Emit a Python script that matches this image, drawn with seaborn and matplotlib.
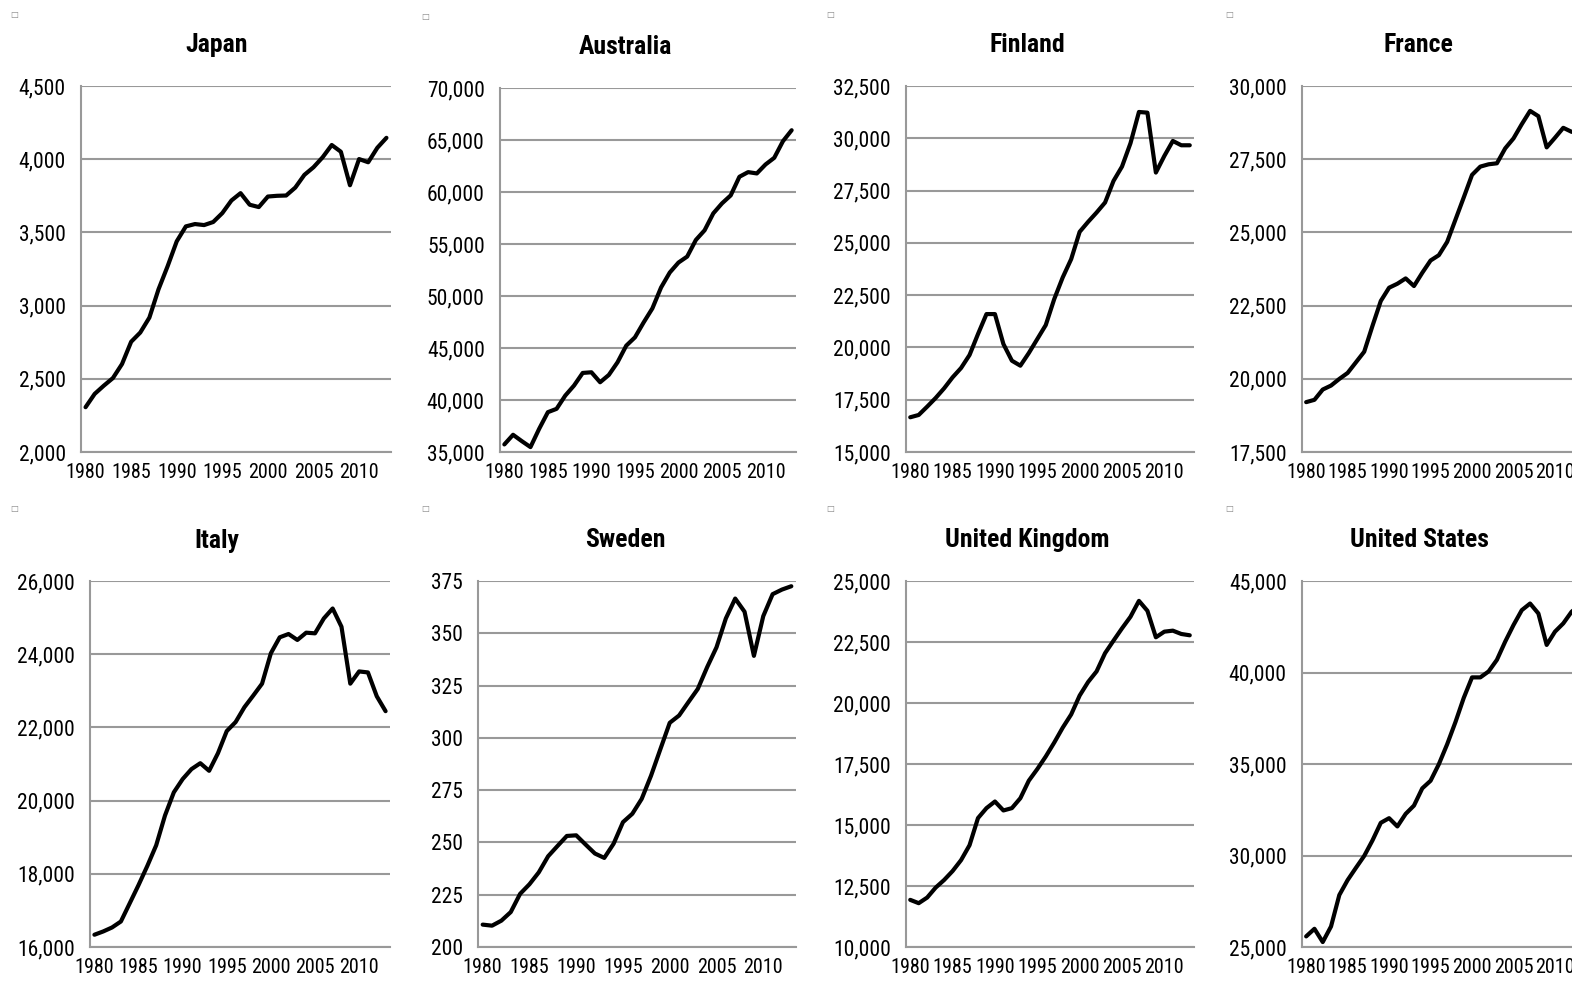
import matplotlib
matplotlib.use("Agg")
import matplotlib.pyplot as plt
import seaborn as sns
import pandas as pd
from matplotlib import font_manager as fm
from matplotlib.ticker import FuncFormatter, MultipleLocator, FixedLocator

sns.set_theme(style="white")

# pick a condensed family if one is installed
_fonts = fm.fontManager.ttflist
_names = {f.name for f in _fonts}
_stretch = "normal"
_family = None
for cand in ["Liberation Sans Narrow", "Arial Narrow", "Roboto Condensed", "DejaVu Sans Condensed",
             "Open Sans Condensed", "Noto Sans Condensed"]:
    if cand in _names:
        _family = cand
        break
if _family is None:
    _family = "Liberation Sans"
    _scale = 0.82
else:
    _scale = 1.0

plt.rcParams['font.family'] = [_family, 'DejaVu Sans']
plt.rcParams['font.stretch'] = _stretch
plt.rcParams['text.color'] = 'black'
plt.rcParams['xtick.color'] = 'black'
plt.rcParams['ytick.color'] = 'black'

years = list(range(1980, 2014))

japan = [2306, 2397, 2453, 2505, 2601, 2753, 2816, 2918, 3111, 3269, 3439, 3541, 3557, 3550,
         3571, 3632, 3718, 3768, 3689, 3673, 3745, 3750, 3752, 3806, 3893, 3945, 4013, 4097,
         4051, 3822, 4001, 3979, 4078, 4146]
australia = [35728, 36655, 36047, 35472, 37231, 38830, 39150, 40428, 41387, 42602, 42666, 41707,
             42410, 43625, 45223, 46023, 47461, 48804, 50818, 52257, 53216, 53791, 55390, 56317,
             57947, 58907, 59674, 61464, 61912, 61784, 62647, 63287, 64885, 65940]
finland = [16660, 16771, 17169, 17583, 18045, 18570, 19016, 19637, 20640, 21595, 21595, 20162,
           19366, 19127, 19732, 20401, 21070, 22312, 23346, 24222, 25527, 26005, 26450, 26928,
           27963, 28647, 29762, 31258, 31226, 28361, 29157, 29873, 29666, 29666]
france = [19203, 19282, 19633, 19769, 19996, 20200, 20562, 20925, 21809, 22658, 23111, 23247,
          23429, 23168, 23621, 24040, 24222, 24675, 25434, 26193, 26964, 27247, 27326, 27360,
          27870, 28210, 28697, 29150, 28969, 27904, 28232, 28572, 28436, 28400]
italy = [16335, 16425, 16534, 16697, 17194, 17692, 18217, 18778, 19593, 20226, 20588, 20860,
         21022, 20814, 21294, 21900, 22145, 22552, 22869, 23195, 24027, 24461, 24552, 24389,
         24588, 24570, 24977, 25249, 24751, 23195, 23529, 23502, 22851, 22443]
sweden = [210.7, 210.2, 212.6, 216.7, 225.4, 230.0, 235.7, 243.4, 248.3, 253.1, 253.4, 249.0,
          244.7, 242.6, 249.4, 259.7, 263.7, 270.8, 281.9, 294.6, 307.2, 310.7, 317.1, 323.4,
          333.8, 343.3, 357.1, 366.6, 360.3, 339.2, 358.2, 368.7, 370.9, 372.5]
united_kingdom = [11932, 11796, 12027, 12434, 12746, 13113, 13560, 14171, 15284, 15691, 15963,
                  15596, 15691, 16098, 16817, 17292, 17808, 18378, 18989, 19531, 20305, 20861,
                  21296, 22042, 22557, 23059, 23534, 24186, 23779, 22693, 22924, 22965, 22829, 22775]
united_states = [25579, 25995, 25271, 26122, 27841, 28656, 29325, 29977, 30827, 31787, 32040,
                 31588, 32276, 32728, 33669, 34084, 34990, 36077, 37289, 38611, 39733, 39733,
                 40059, 40692, 41688, 42593, 43407, 43769, 43226, 41507, 42231, 42683, 43317, 43700]

titles = ["Japan", "Australia", "Finland", "France", "Italy", "Sweden", "United Kingdom", "United States"]
series = [japan, australia, finland, france, italy, sweden, united_kingdom, united_states]
y_ranges = [(2000, 4500, 500), (35000, 70000, 5000), (15000, 32500, 2500), (17500, 30000, 2500),
            (16000, 26000, 2000), (200, 375, 25), (10000, 25000, 2500), (25000, 45000, 5000)]

# layout (pixels): left, right, top, bottom ; title center x, title y ; marker x, y
W, H = 1572, 988
layout = [
    (81, 391, 86, 452, 217, 45, 14, 14),
    (500, 796, 88, 452, 625, 47, 425, 16),
    (906, 1194, 86, 452, 1027, 45, 830, 14),
    (1302, 1584, 86, 452, 1418, 45, 1229, 14),
    (90, 390, 581, 947, 217, 541, 14, 508),
    (478, 796, 581, 947, 625, 540, 425, 508),
    (906, 1194, 581, 947, 1027, 540, 830, 508),
    (1302, 1584, 581, 947, 1419, 540, 1229, 508),
]

fig = plt.figure(figsize=(W / 100, H / 100), dpi=100)
grid_c = "#999999"
ytick_fs = 15.5 * _scale
xtick_fs = 14.5 * _scale
title_fs = 18.5 * _scale

for title, vals, (ymin, ymax, ystep), (l, r, t, b, tx, ty, mx, my) in zip(titles, series, y_ranges, layout):
    ax = fig.add_axes([l / W, 1 - b / H, (r - l) / W, (b - t) / H])
    df = pd.DataFrame({"year": years, "value": vals})
    sns.lineplot(data=df, x="year", y="value", ax=ax, color="black", linewidth=3.0,
                 solid_joinstyle="round", solid_capstyle="round")
    ax.set_xlim(1979.5, 2013.5)
    ax.set_ylim(ymin, ymax)
    ax.set_xlabel("")
    ax.set_ylabel("")
    ax.yaxis.set_major_locator(MultipleLocator(ystep))
    ax.yaxis.set_major_formatter(FuncFormatter(lambda v, p: f"{v:,.0f}"))
    ax.xaxis.set_major_locator(FixedLocator(list(range(1980, 2014, 5))))
    ax.xaxis.set_minor_locator(FixedLocator([y - 0.5 for y in range(1980, 2015)]))
    ax.xaxis.set_major_formatter(FuncFormatter(lambda v, p: f"{int(v)}"))
    ax.grid(axis="y", color=grid_c, linewidth=1.5)
    ax.grid(axis="x", visible=False)
    ax.set_axisbelow(True)
    for s in ["top", "right"]:
        ax.spines[s].set_visible(False)
    for s in ["left", "bottom"]:
        ax.spines[s].set_color(grid_c)
        ax.spines[s].set_linewidth(1.5)
    ax.tick_params(axis="y", which="major", length=5, width=1.2, color=grid_c, direction="out",
                   labelsize=ytick_fs, pad=6, labelcolor="black")
    ax.tick_params(axis="x", which="major", length=0, labelsize=xtick_fs, pad=8, labelcolor="black")
    ax.tick_params(axis="x", which="minor", length=5, width=1.2, color=grid_c, direction="out")
    ax.patch.set_alpha(0)
    fig.text(tx / W, 1 - ty / H, title, ha="center", va="center", fontsize=title_fs,
             fontweight="bold", color="black")
    fig.text(mx / W, 1 - my / H, "\u25a1", ha="center", va="center", fontsize=6, color="#888888",
             family=["DejaVu Sans"])

fig.savefig("out.png", dpi=100)
